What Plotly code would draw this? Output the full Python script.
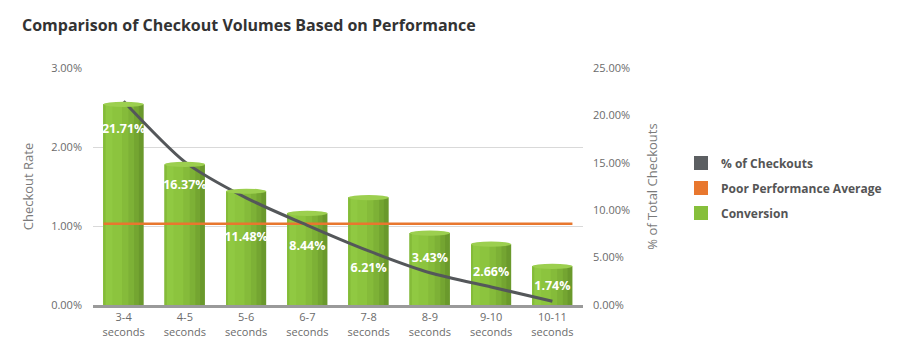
import plotly.graph_objects as go

categories = ["3-4<br>seconds", "4-5<br>seconds", "5-6<br>seconds", "6-7<br>seconds",
              "7-8<br>seconds", "8-9<br>seconds", "9-10<br>seconds", "10-11<br>seconds"]
conversion = [2.54, 1.78, 1.44, 1.16, 1.36, 0.91, 0.77, 0.49]          # left axis, %
pct_checkouts = [21.5, 15.1, 11.3, 8.4, 5.7, 3.4, 1.9, 0.4]            # right axis, %
bar_labels = ["21.71%", "16.37%", "11.48%", "8.44%", "6.21%", "3.43%", "2.66%", "1.74%"]
poor_perf_avg = 1.03                                                   # left axis, %
left_ticks = [0, 1, 2, 3]
right_ticks = [0, 5, 10, 15, 20, 25]

# layout-only: vertical placement of bar labels (left-axis units)
label_pos = [2.215, 1.506, 0.848, 0.734, 0.456, 0.582, 0.405, 0.228]

FONT = "Open Sans"
x = list(range(len(categories)))
BW = 0.655

fig = go.Figure()

# legend entries (square swatches)
legend_items = [("% of Checkouts", "#5c5f62"),
                ("Poor Performance Average", "#e8772e"),
                ("Conversion", "#86bf3b")]
for i, (name, col) in enumerate(legend_items):
    fig.add_trace(go.Scatter(x=[None], y=[None], mode="markers", name=name,
                             legendgroup=f"g{i}",
                             marker=dict(symbol="square", size=14, color=col)))

# cylinder-like bars: stepped horizontal gradient via overlaid bars
steps = [(1.00, "#6a992c"), (0.88, "#74a531"), (0.76, "#7db136"),
         (0.62, "#85bb3a"), (0.46, "#8cc43e"), (0.22, "#90c942"), (0.05, "#84bb39")]
for frac, col in steps:
    w = BW * frac
    fig.add_trace(go.Bar(x=x, y=conversion, width=w, offset=-BW / 2,
                         marker=dict(color=col, line=dict(width=0)),
                         showlegend=False, hoverinfo="skip", yaxis="y"))

# top ellipses of the cylinders
for xi, v in zip(x, conversion):
    fig.add_shape(type="circle", xref="x", yref="y",
                  x0=xi - BW / 2, x1=xi + BW / 2, y0=v - 0.033, y1=v + 0.033,
                  fillcolor="#9ccf4f", line=dict(width=0), layer="above")

# poor performance average line
fig.add_trace(go.Scatter(x=[x[0] - BW / 2, x[-1] + BW / 2], y=[poor_perf_avg, poor_perf_avg],
                         mode="lines", line=dict(color="#e8772e", width=2.5),
                         showlegend=False, hoverinfo="skip", yaxis="y"))

# bar labels
fig.add_trace(go.Scatter(x=x, y=label_pos, mode="text", text=bar_labels,
                         textfont=dict(family=FONT, size=12.5, color="white", weight="bold"),
                         showlegend=False, hoverinfo="skip", yaxis="y"))

# % of checkouts line
fig.add_trace(go.Scatter(x=x, y=pct_checkouts, mode="lines",
                         line=dict(color="#54575a", width=3, shape="spline", smoothing=0.7),
                         showlegend=False, hoverinfo="skip", yaxis="y2"))

fig.update_layout(
    width=900, height=353,
    margin=dict(l=93, r=317, t=68, b=48),
    paper_bgcolor="white", plot_bgcolor="white",
    barmode="overlay",
    font=dict(family=FONT, color="#6b6b6b", size=11),
    title=dict(text="<b>Comparison of Checkout Volumes Based on Performance</b>",
               x=22 / 900, xanchor="left", y=1 - 25 / 353, yanchor="middle",
               font=dict(family=FONT, size=16, color="#333333")),
    xaxis=dict(range=[-0.5, 7.5], tickvals=x, ticktext=categories,
               showgrid=False, zeroline=False, showline=True,
               linecolor="#9a9a9a", linewidth=3, ticks="",
               tickfont=dict(size=11, color="#6b6b6b")),
    yaxis=dict(range=[0, 3], tickvals=left_ticks,
               ticktext=[f"{t:.2f}%" for t in left_ticks],
               showgrid=True, gridcolor="#d9d9d9", gridwidth=1, zeroline=False,
               ticklabelstandoff=10,
               title=dict(text="Checkout Rate", standoff=14,
                          font=dict(size=13, color="#7a7a7a")),
               tickfont=dict(size=11, color="#6b6b6b")),
    yaxis2=dict(range=[0, 25], tickvals=right_ticks,
                ticktext=[f"{t:.2f}%" for t in right_ticks],
                overlaying="y", side="right", showgrid=False,
                zeroline=False, ticklabelstandoff=9,
                title=dict(text="% of Total Checkouts", standoff=18,
                           font=dict(size=13, color="#7a7a7a")),
                tickfont=dict(size=11, color="#6b6b6b")),
    legend=dict(x=1.2, xanchor="left", y=0.66, yanchor="top",
                traceorder="grouped", tracegroupgap=6,
                font=dict(family=FONT, size=12, color="#555555", weight="bold"),
                bgcolor="rgba(0,0,0,0)"),
    showlegend=True,
)

fig.write_html("out.html")
